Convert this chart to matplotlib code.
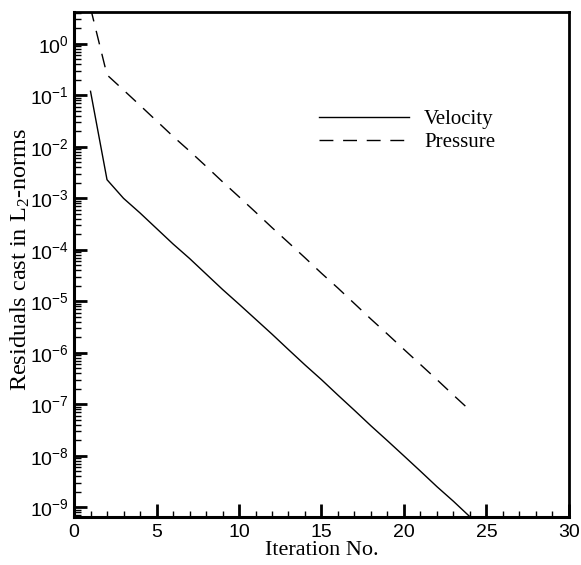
import numpy as np
import matplotlib
matplotlib.use('Agg')
import matplotlib.pyplot as plt
from matplotlib.ticker import MultipleLocator, LogLocator, NullFormatter

# iteration numbers
iterations = list(range(1, 25))

# residuals
velocity = [1.2e-1, 2.3e-3, 1.0e-3, 5.2e-4, 2.6e-4, 1.3e-4, 6.8e-5, 3.4e-5,
            1.7e-5, 8.8e-6, 4.5e-6, 2.3e-6, 1.15e-6, 5.8e-7, 3.0e-7, 1.5e-7,
            7.6e-8, 3.8e-8, 1.95e-8, 9.9e-9, 5.0e-9, 2.5e-9, 1.3e-9, 6.5e-10]
pressure = [5.0, 0.25, 0.127, 6.4e-2, 3.2e-2, 1.6e-2, 8.3e-3, 4.2e-3,
            2.1e-3, 1.07e-3, 5.4e-4, 2.7e-4, 1.38e-4, 7.0e-5, 3.5e-5, 1.8e-5,
            9.0e-6, 4.5e-6, 2.3e-6, 1.16e-6, 5.9e-7, 3.0e-7, 1.5e-7, 7.6e-8]

series_names = ['Velocity', 'Pressure']

fig = plt.figure(figsize=(5.81, 5.65), dpi=100)
ax = fig.add_axes([0.1274, 0.0850, 0.8519, 0.8938])

ax.plot(iterations, velocity, '-', color='black', lw=1.0, label=series_names[0])
ax.plot(iterations, pressure, color='black', lw=1.0, dashes=(10, 7), label=series_names[1])

ax.set_yscale('log')
ax.set_xlim(0, 30)
ax.set_ylim(10**-9.19, 10**0.62)

ax.xaxis.set_major_locator(MultipleLocator(5))
ax.xaxis.set_minor_locator(MultipleLocator(1))
ax.yaxis.set_major_locator(LogLocator(base=10, numticks=20))
ax.yaxis.set_minor_locator(LogLocator(base=10, subs=np.arange(2, 10), numticks=20))
ax.yaxis.set_minor_formatter(NullFormatter())

ax.tick_params(which='both', direction='in', top=False, right=False)
ax.tick_params(which='major', length=9.5, width=2.0, labelsize=14)
ax.tick_params(axis='x', which='major', pad=5)
ax.tick_params(axis='y', which='major', pad=4)
ax.tick_params(axis='x', which='minor', length=4.5, width=1.0)
ax.tick_params(axis='y', which='minor', length=5, width=1.0)

for lab in ax.get_xticklabels() + ax.get_yticklabels():
    lab.set_fontfamily('Liberation Sans')

for sp in ax.spines.values():
    sp.set_linewidth(2.2)
ax.spines['top'].set_linewidth(2.0)
ax.spines['right'].set_linewidth(2.0)

ax.set_xlabel('Iteration No.', fontfamily='Liberation Serif', fontsize=16, labelpad=0)
ax.set_ylabel(r'Residuals cast in $\mathregular{L_2}$-norms', fontfamily='Liberation Serif',
              fontsize=17.5)
ax.yaxis.set_label_coords(-0.085, 0.51)

leg = ax.legend(loc='center left', bbox_to_anchor=(0.495, 0.765), frameon=False,
                borderpad=0, borderaxespad=0,
                handlelength=4.3, handletextpad=0.75, labelspacing=0.15,
                prop={'family': 'Liberation Serif', 'size': 15})

plt.savefig('out.png', dpi=100)
